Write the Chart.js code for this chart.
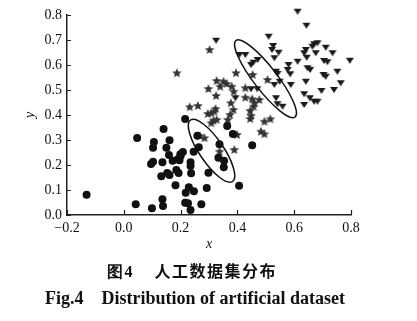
<!DOCTYPE html>
<html>
<head>
<meta charset="utf-8">
<script src="https://cdn.jsdelivr.net/npm/chart.js"></script>
<style>
  body { margin: 0; background: #fff; }
  #wrap { position: relative; width: 417px; height: 321px; }
  .cap { position: absolute; left: 0; white-space: nowrap; color: #111; }
  #capCn { top: 258px; left: 107px; font: bold 16px "Noto Sans CJK SC", sans-serif; letter-spacing: 1.5px; }
  #capEn { top: 288px; left: 45px; font: bold 18px "Liberation Serif", serif; }
</style>
</head>
<body>
<div id="wrap">
  <canvas id="myChart" width="417" height="321"></canvas>
  <div class="cap" id="capCn"><span style="font-family:'Liberation Serif',serif">图4</span>&nbsp;&nbsp;&nbsp;&nbsp;人工数据集分布</div>
  <div class="cap" id="capEn">Fig.4&nbsp;&nbsp;&nbsp;&nbsp;Distribution of artificial dataset</div>
</div>
<script>
// class 1 - circles
const circleX = [-0.131, 0.047, 0.042, 0.099, 0.106, 0.103, 0.140, 0.161, 0.150, 0.159,
  0.103, 0.096, 0.136, 0.172, 0.153, 0.161, 0.132, 0.136, 0.138, 0.185,
  0.193, 0.182, 0.196, 0.200, 0.208, 0.216, 0.235, 0.235, 0.237, 0.218,
  0.229, 0.247, 0.216, 0.226, 0.235, 0.246, 0.259, 0.264, 0.273, 0.292,
  0.298, 0.364, 0.384, 0.337, 0.333, 0.353, 0.352, 0.406, 0.452, 0.199, 0.190];
const circleY = [0.081, 0.308, 0.043, 0.027, 0.292, 0.269, 0.344, 0.299, 0.269, 0.240,
  0.213, 0.204, 0.211, 0.217, 0.168, 0.160, 0.155, 0.063, 0.036, 0.180,
  0.168, 0.119, 0.219, 0.236, 0.252, 0.384, 0.211, 0.196, 0.167, 0.089,
  0.111, 0.095, 0.049, 0.047, 0.020, 0.253, 0.317, 0.271, 0.043, 0.108,
  0.169, 0.356, 0.324, 0.283, 0.229, 0.217, 0.191, 0.117, 0.279, 0.243, 0.223];

// class 2 - stars
const starX = [0.302, 0.187, 0.395, 0.327, 0.351, 0.362, 0.339, 0.298, 0.380, 0.387,
  0.325, 0.428, 0.428, 0.377, 0.232, 0.261, 0.323, 0.454, 0.452, 0.460,
  0.477, 0.506, 0.457, 0.445, 0.386, 0.374, 0.366, 0.308, 0.316, 0.308,
  0.445, 0.448, 0.495, 0.516, 0.483, 0.495, 0.296, 0.319, 0.327, 0.399,
  0.389, 0.284, 0.267, 0.337];
const starY = [0.660, 0.567, 0.567, 0.536, 0.533, 0.524, 0.513, 0.504, 0.513, 0.493,
  0.476, 0.507, 0.469, 0.447, 0.431, 0.436, 0.424, 0.560, 0.463, 0.447,
  0.460, 0.540, 0.433, 0.416, 0.420, 0.400, 0.380, 0.407, 0.377, 0.367,
  0.384, 0.396, 0.373, 0.383, 0.333, 0.323, 0.404, 0.413, 0.380, 0.320,
  0.260, 0.307, 0.316, 0.253];

// class 3 - triangles
const triX = [0.612, 0.643, 0.510, 0.526, 0.522, 0.545, 0.530, 0.407, 0.428, 0.448,
  0.456, 0.471, 0.670, 0.682, 0.664, 0.711, 0.641, 0.635, 0.676, 0.644,
  0.735, 0.796, 0.612, 0.580, 0.577, 0.586, 0.536, 0.647, 0.656, 0.705,
  0.717, 0.703, 0.711, 0.752, 0.641, 0.764, 0.740, 0.696, 0.635, 0.588,
  0.655, 0.670, 0.682, 0.635, 0.559, 0.541, 0.536, 0.530, 0.549, 0.325,
  0.393, 0.448, 0.470, 0.541];
const triY = [0.813, 0.757, 0.713, 0.676, 0.660, 0.649, 0.627, 0.640, 0.640, 0.600,
  0.609, 0.620, 0.683, 0.687, 0.673, 0.669, 0.660, 0.647, 0.647, 0.629,
  0.647, 0.617, 0.613, 0.600, 0.580, 0.563, 0.573, 0.587, 0.580, 0.616,
  0.611, 0.560, 0.553, 0.573, 0.533, 0.527, 0.500, 0.496, 0.483, 0.520,
  0.467, 0.453, 0.453, 0.440, 0.433, 0.443, 0.467, 0.520, 0.533, 0.697,
  0.467, 0.503, 0.503, 0.564];

// ellipses: centre, one end of the long axis, short/long ratio
const ellCenterX = [0.309, 0.499];
const ellCenterY = [0.257, 0.545];
const ellTipX = [0.235, 0.395];
const ellTipY = [0.380, 0.698];
const ellRatio = [0.32, 0.24];

const xTicks = [-0.2, 0.0, 0.2, 0.4, 0.6, 0.8];
const yTicks = [0.0, 0.1, 0.2, 0.3, 0.4, 0.5, 0.6, 0.7, 0.8];

function toPoints(xs, ys) {
    return xs.map((x, i) => ({x: x, y: ys[i]}));
}

// filled five point star for the middle class
function makeStar(r, color) {
    const c = document.createElement('canvas');
    c.width = c.height = r * 2 + 2;
    const g = c.getContext('2d');
    g.fillStyle = color;
    g.beginPath();
    for (let i = 0; i < 10; i++) {
        const rad = i % 2 == 0 ? r : r * 0.45;
        const a = -Math.PI / 2 + i * Math.PI / 5;
        const px = r + 1 + rad * Math.cos(a), py = r + 1 + rad * Math.sin(a);
        if (i == 0) g.moveTo(px, py); else g.lineTo(px, py);
    }
    g.closePath();
    g.fill();
    return c;
}

// filled downward triangle
function makeTri(w, color) {
    const c = document.createElement('canvas');
    c.width = w + 2; c.height = w;
    const g = c.getContext('2d');
    g.fillStyle = color;
    g.beginPath();
    g.moveTo(1, 1); g.lineTo(w + 1, 1); g.lineTo(w / 2 + 1, w - 1);
    g.closePath();
    g.fill();
    return c;
}

const ellipsePlugin = {
    id: 'ellipses',
    afterDatasetsDraw(chart) {
        const c = chart.ctx, xs = chart.scales.x, ys = chart.scales.y;
        c.save();
        c.strokeStyle = '#111';
        c.lineWidth = 1.5;
        for (let i = 0; i < ellCenterX.length; i++) {
            const cx = xs.getPixelForValue(ellCenterX[i]), cy = ys.getPixelForValue(ellCenterY[i]);
            const tx = xs.getPixelForValue(ellTipX[i]), ty = ys.getPixelForValue(ellTipY[i]);
            const a = Math.hypot(tx - cx, ty - cy);
            c.beginPath();
            c.ellipse(cx, cy, a, a * ellRatio[i], Math.atan2(ty - cy, tx - cx), 0, Math.PI * 2);
            c.stroke();
        }
        c.restore();
    }
};

// tick marks pointing into the plot
const innerTicks = {
    id: 'innerTicks',
    afterDraw(chart) {
        const c = chart.ctx, xs = chart.scales.x, ys = chart.scales.y, a = chart.chartArea;
        c.save();
        c.strokeStyle = '#222';
        c.lineWidth = 1.2;
        c.beginPath();
        xTicks.forEach(v => {
            const p = Math.round(xs.getPixelForValue(v)) + 0.5;
            c.moveTo(p, a.bottom); c.lineTo(p, a.bottom - 5);
        });
        yTicks.forEach(v => {
            const p = Math.round(ys.getPixelForValue(v)) + 0.5;
            c.moveTo(a.left, p); c.lineTo(a.left + 4, p);
        });
        c.stroke();
        c.restore();
    }
};

const tickFont = {family: 'Liberation Serif', size: 14};

const myChart = new Chart(document.getElementById('myChart'), {
    type: 'scatter',
    data: {
        datasets: [{
            label: 'class 1',
            data: toPoints(circleX, circleY),
            pointStyle: 'circle',
            pointRadius: 4,
            backgroundColor: '#111',
            borderColor: '#111',
            borderWidth: 0
        }, {
            label: 'class 2',
            data: toPoints(starX, starY),
            pointStyle: makeStar(5, '#333'),
            pointRadius: 5
        }, {
            label: 'class 3',
            data: toPoints(triX, triY),
            pointStyle: makeTri(8, '#1a1a1a'),
            pointRadius: 5
        }]
    },
    options: {
        responsive: false,
        animation: false,
        clip: false,
        layout: {padding: {left: 0, right: 66, top: 15, bottom: 68}},
        plugins: {
            legend: {display: false},
            tooltip: {enabled: false}
        },
        scales: {
            x: {
                type: 'linear',
                min: -0.2,
                max: 0.8,
                afterBuildTicks: s => { s.ticks = xTicks.map(v => ({value: v})); },
                afterFit: s => { s.height = 38; },
                grid: {display: false, drawTicks: false},
                border: {display: true, color: '#222', width: 1.5},
                ticks: {
                    font: tickFont,
                    color: '#111',
                    padding: 5,
                    maxRotation: 0,
                    callback: v => v.toFixed(1).replace('-', '\u2212')
                },
                title: {
                    display: true,
                    text: 'x',
                    font: {family: 'Liberation Serif', size: 14, style: 'italic'},
                    color: '#111',
                    padding: {top: 0, bottom: 0}
                }
            },
            y: {
                type: 'linear',
                min: 0,
                max: 0.8,
                afterBuildTicks: s => { s.ticks = yTicks.map(v => ({value: v})); },
                afterFit: s => { s.width = 67; },
                grid: {display: false, drawTicks: false},
                border: {display: true, color: '#222', width: 1.5},
                ticks: {
                    font: tickFont,
                    color: '#111',
                    padding: 5,
                    callback: v => v.toFixed(1)
                },
                title: {
                    display: true,
                    text: 'y',
                    font: {family: 'Liberation Serif', size: 14, style: 'italic'},
                    color: '#111',
                    padding: {top: 22, bottom: 0}
                }
            }
        }
    },
    plugins: [ellipsePlugin, innerTicks]
});
</script>
</body>
</html>
